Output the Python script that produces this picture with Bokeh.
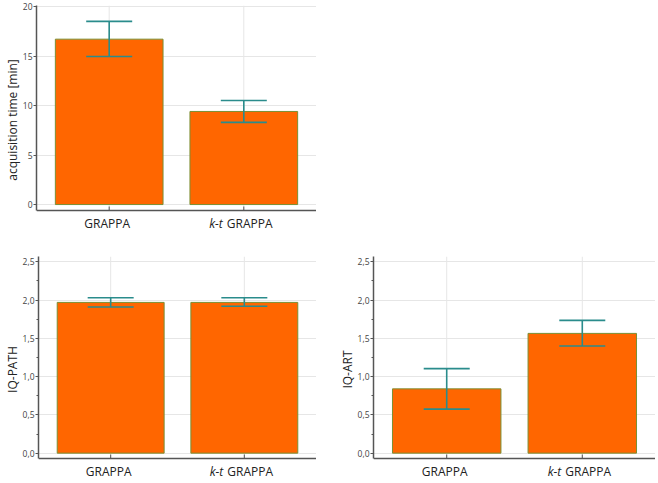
from bokeh.plotting import figure
from bokeh.layouts import column, row
from bokeh.models import (ColumnDataSource, Whisker, TeeHead, FactorRange, Range1d,
                          FixedTicker, CustomJSTickFormatter, Spacer, Span)
from bokeh.core.properties import value
from bokeh.embed import file_html
from bokeh.resources import INLINE

# ---- data ----
categories = ["GRAPPA", "k-t GRAPPA"]
label_italic = ["", "k-t"]          # italic part of each category label
label_plain = ["GRAPPA", "GRAPPA"]  # upright part of each category label

acq_mean = [16.7, 9.4]
acq_lower = [14.95, 8.3]
acq_upper = [18.5, 10.5]

path_mean = [1.97, 1.97]
path_lower = [1.91, 1.92]
path_upper = [2.03, 2.03]

art_mean = [0.84, 1.565]
art_lower = [0.575, 1.40]
art_upper = [1.105, 1.735]

acq_ticks = [0, 5, 10, 15, 20]
iq_ticks = [0.0, 0.5, 1.0, 1.5, 2.0, 2.5]

FONT = value("Open Sans")
BAR = "#FF6600"
BAR_LINE = "#7a8f34"
ERR = "#2a8c8c"
AXIS = "#555555"
GRID = "#e6e6e6"
TXT = "#222222"


def label_source(axis_y):
    rows = dict(cat=[], text=[], style=[], align=[], xoff=[], y=[])
    for cat, it, pl in zip(categories, label_italic, label_plain):
        if it:
            rows["cat"] += [cat, cat]
            rows["text"] += [it, pl]
            rows["style"] += ["italic", "normal"]
            rows["align"] += ["right", "left"]
            rows["xoff"] += [-21, -17]
            rows["y"] += [axis_y, axis_y]
        else:
            rows["cat"].append(cat)
            rows["text"].append(pl)
            rows["style"].append("normal")
            rows["align"].append("center")
            rows["xoff"].append(-2)
            rows["y"].append(axis_y)
    return ColumnDataSource(rows)


def make_panel(mean, lower, upper, ylabel, ystart, ytop, ticks, comma,
               width, height, mb_left, mb_top, axis_px, minor):
    # frame spans from (axis position - label room) to ytop
    frame_h = height - mb_top
    ppu = axis_px / (ytop - ystart)          # pixels per data unit
    yframe_bottom = ystart - (frame_h - axis_px) / ppu
    n = len(categories)
    src = ColumnDataSource(dict(cat=categories, mean=mean, lower=lower, upper=upper,
                                y0=[ystart] * n, y1=[ytop] * n,
                                tick_top=[ystart + 4 / ppu] * n))
    p = figure(x_range=FactorRange(*categories, range_padding=0.04),
               y_range=Range1d(yframe_bottom, ytop), width=width, height=height,
               output_backend="svg", toolbar_location=None,
               min_border_left=mb_left, min_border_top=mb_top,
               min_border_bottom=0, min_border_right=0)
    p.outline_line_color = None

    # vertical grid lines at categories, limited to the plotting area above the axis
    p.xgrid.visible = False
    p.segment(x0="cat", x1="cat", y0="y0", y1="y1", source=src,
              line_color=GRID, line_width=1, level="underlay")
    p.ygrid.grid_line_color = GRID

    p.vbar(x="cat", top="mean", bottom=0, width=0.8, source=src,
           fill_color=BAR, line_color=BAR_LINE, line_width=1)
    head_u = TeeHead(size=46, line_color=ERR, line_width=1.6)
    head_l = TeeHead(size=46, line_color=ERR, line_width=1.6)
    w = Whisker(base="cat", upper="upper", lower="lower", source=src,
                upper_head=head_u, lower_head=head_l,
                line_color=ERR, line_width=1.6, level="annotation")
    p.add_layout(w)

    yax = p.yaxis[0]
    step = ticks[1] - ticks[0]
    yax.ticker = FixedTicker(ticks=ticks,
                             minor_ticks=[t + step / 2 for t in ticks[:-1]] if minor else [])
    if comma:
        yax.formatter = CustomJSTickFormatter(code="return tick.toFixed(1).replace('.', ',');")
    yax.bounds = (ystart, ytop)
    yax.axis_label = ylabel
    yax.axis_label_text_font = "Open Sans"
    yax.axis_label_text_font_style = "normal"
    yax.axis_label_text_font_size = "12px"
    yax.axis_label_text_color = TXT
    yax.axis_label_standoff = -1
    yax.major_label_text_font = "Open Sans"
    yax.major_label_text_font_size = "8.5px"
    yax.major_label_text_color = "#444444"
    yax.major_label_standoff = 1
    yax.axis_line_color = AXIS
    yax.axis_line_width = 1.5
    yax.major_tick_line_color = AXIS
    yax.major_tick_out = 3
    yax.major_tick_in = 0
    yax.minor_tick_line_color = AXIS
    yax.minor_tick_out = 2
    yax.minor_tick_in = 0

    # x axis: line at the bottom of the value range, ticks at the categories
    p.xaxis.visible = False
    p.add_layout(Span(location=ystart, dimension="width", line_color=AXIS,
                      line_width=1.5, level="guide"))
    p.segment(x0="cat", x1="cat", y0="y0", y1="tick_top", source=src,
              line_color=AXIS, line_width=1, level="guide")

    lab = label_source(ystart)
    p.text(x="cat", y="y", text="text", source=lab, x_offset="xoff", y_offset=4,
           text_font=FONT, text_font_size="12px", text_color=TXT,
           text_font_style="style", text_align="align", text_baseline="top")
    return p


p1 = make_panel(acq_mean, acq_lower, acq_upper, "acquisition time [min]",
                -0.6, 20.1, acq_ticks, False, 316, 234, 18, 5, 205, False)
p2 = make_panel(path_mean, path_lower, path_upper, "IQ-PATH",
                -0.07, 2.57, iq_ticks, True, 316, 248, 18, 22, 202, True)
p3 = make_panel(art_mean, art_lower, art_upper, "IQ-ART",
                -0.07, 2.57, iq_ticks, True, 339, 248, 57, 22, 202, True)

layout = column(row(p1, Spacer(width=339, height=234)), row(p2, p3))

with open("out.html", "w") as f:
    f.write(file_html(layout, INLINE))
